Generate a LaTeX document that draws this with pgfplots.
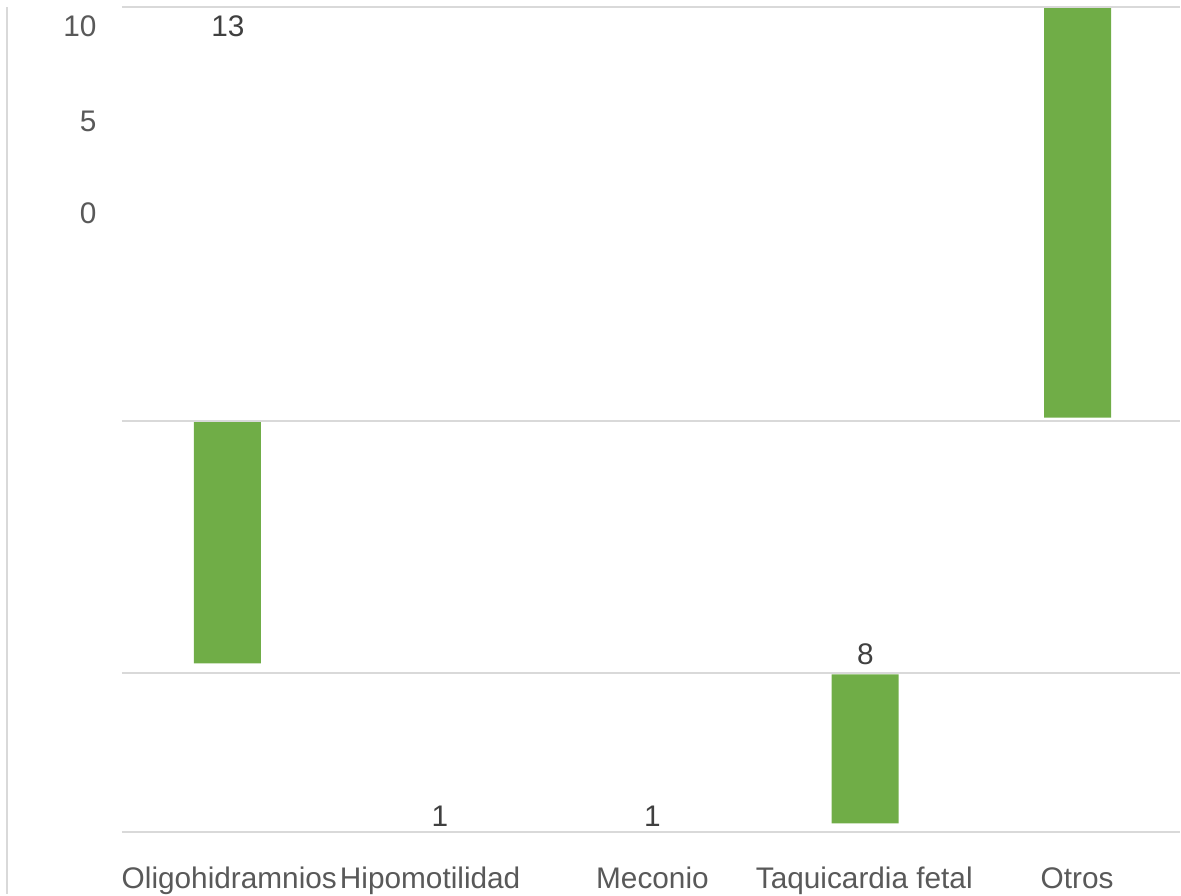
\documentclass[border=0pt]{standalone}
\usepackage{pgfplots}
\pgfplotsset{compat=1.18}
\usepackage{pgfplotstable}
\usepackage{fontspec}
\setmainfont{Liberation Sans}

\definecolor{barGreen}{HTML}{70AD47}
\definecolor{gridGray}{HTML}{D9D9D9}
\definecolor{labelGray}{HTML}{595959}
\definecolor{valueGray}{HTML}{404040}

\tikzset{
  txt/.style={font=\fontsize{14.9}{18}\selectfont, inner sep=0pt},
  ticklbl/.style={txt, anchor=base east, text=labelGray},
  vallbl/.style={txt, anchor=base, text=valueGray},
  catlbl/.style={txt, anchor=base, text=labelGray},
}

% floating bars: start of each bar and its length, measured downwards
\pgfplotstableread{
x      start  len
227.5  422    242
440.25 0      0
653    0      0
865.75 675    149
1078.5 8      410
}\bars

\begin{document}
\begin{tikzpicture}
\begin{axis}[
  scale only axis,
  width=590.5pt, height=447.5pt,
  xmin=0, xmax=1181, ymin=0, ymax=895,
  y dir=reverse,
  axis lines=none,
  xtick=\empty, ytick=\empty,
  clip=false,
  ybar stacked, bar width=67,
]
% bounding frame
\path (axis cs:0,0) rectangle (axis cs:1181,895);

% gridlines and left rule
\draw[gridGray, line width=1pt] (axis cs:122,7) -- (axis cs:1181,7);
\draw[gridGray, line width=1pt] (axis cs:122,421) -- (axis cs:1181,421);
\draw[gridGray, line width=1pt] (axis cs:122,674) -- (axis cs:1181,674);
\draw[gridGray, line width=1pt] (axis cs:122,833) -- (axis cs:1181,833);
\draw[gridGray, line width=1pt] (axis cs:7,7) -- (axis cs:7,895);

% bars
\addplot[draw=none, fill=none] table[x=x, y=start] {\bars};
\addplot[draw=none, fill=barGreen] table[x=x, y=len] {\bars};

% value axis labels
\node[ticklbl] at (axis cs:97,37) {10};
\node[ticklbl] at (axis cs:97,132) {5};
\node[ticklbl] at (axis cs:97,224) {0};

% data labels
\node[vallbl] at (axis cs:228,37) {13};
\node[vallbl] at (axis cs:440.25,827) {1};
\node[vallbl] at (axis cs:653,827) {1};
\node[vallbl] at (axis cs:866,665) {8};

% category labels
\node[catlbl] at (axis cs:229.5,889) {Oligohidramnios};
\node[catlbl] at (axis cs:430.5,889) {Hipomotilidad};
\node[catlbl] at (axis cs:653,889) {Meconio};
\node[catlbl] at (axis cs:865,889) {Taquicardia fetal};
\node[catlbl] at (axis cs:1078,889) {Otros};
\end{axis}
\end{tikzpicture}
\end{document}
